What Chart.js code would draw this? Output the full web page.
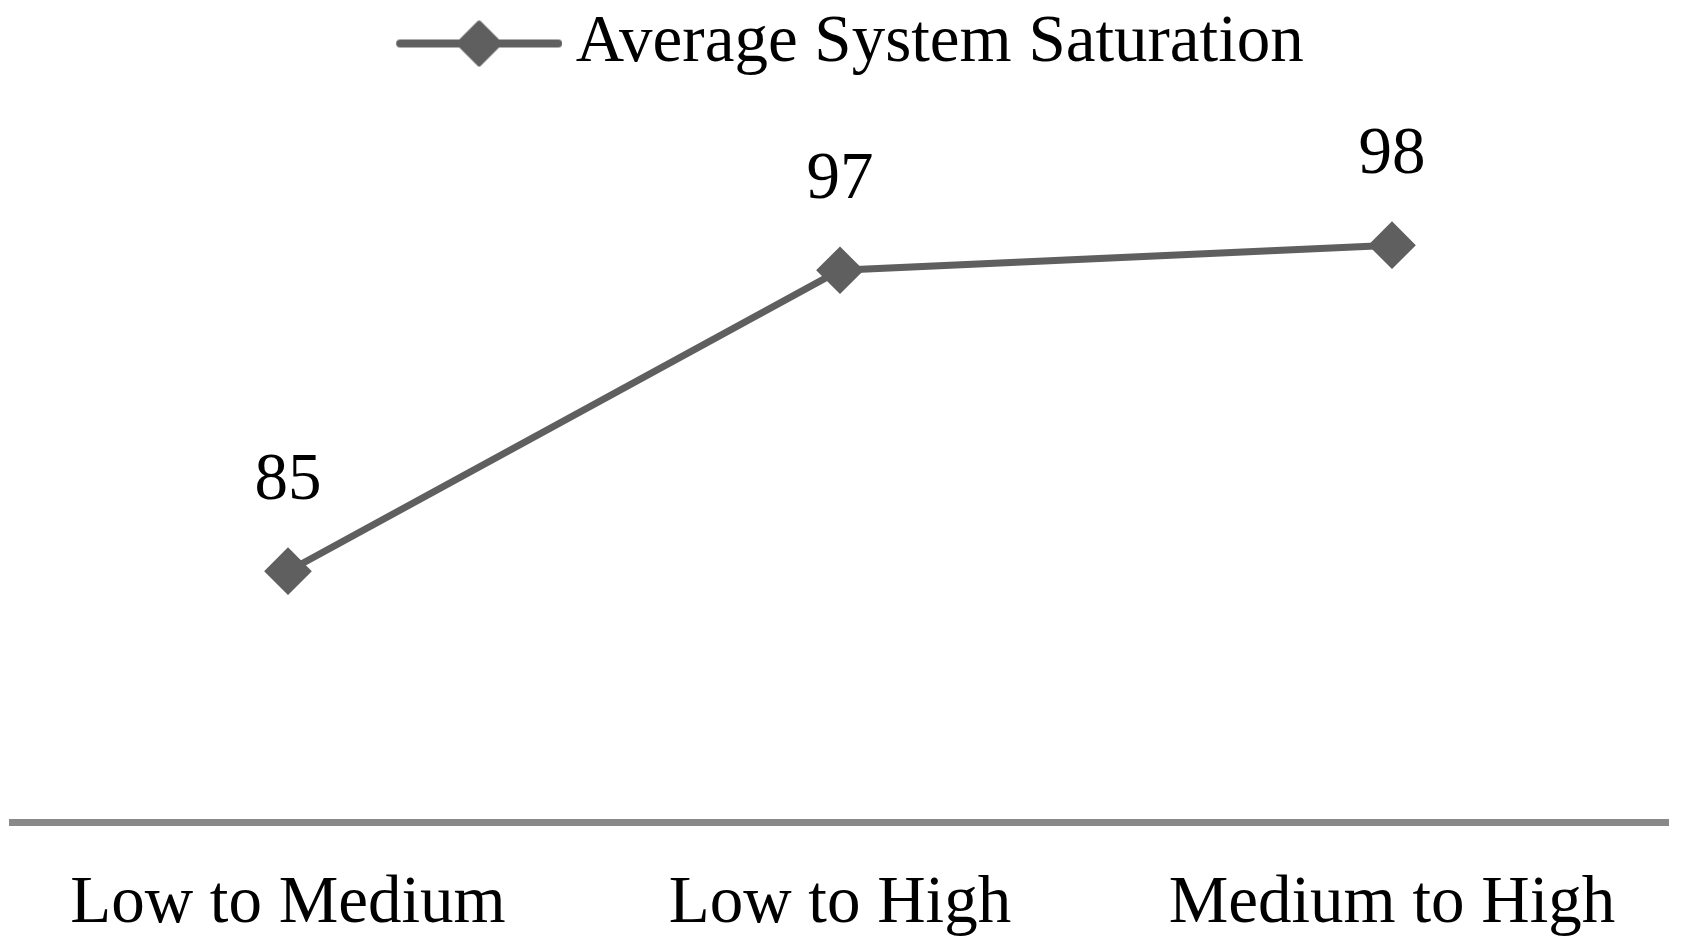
<!DOCTYPE html>
<html>
<head>
    <title>Average System Saturation</title>
    <style>
        html, body { margin: 0; padding: 0; background: #ffffff; }
        #chartContainer { width: 1681px; height: 950px; }
    </style>
    <script src="https://cdn.jsdelivr.net/npm/chart.js"></script>
</head>
<body>
    <div id="chartContainer">
        <canvas id="myChart"></canvas>
    </div>

    <script>
        // data
        const categories = ['Low to Medium', 'Low to High', 'Medium to High'];
        const saturation = [85, 97, 98];
        const seriesName = 'Average System Saturation';

        const lineColor = '#5f5f5f';
        const fontFamily = '"Liberation Serif", "Times New Roman", serif';
        const fontSize = 67;

        // legend marker: a short line with a diamond on it
        // (drawn in the right part of a wider canvas so it sits closer to the text)
        let marker = document.createElement('canvas');
        marker.width = 206;
        marker.height = 52;
        let mctx = marker.getContext('2d');
        mctx.strokeStyle = lineColor;
        mctx.fillStyle = lineColor;
        mctx.lineWidth = 8;
        mctx.lineCap = 'round';
        mctx.beginPath();
        mctx.moveTo(44, 26);
        mctx.lineTo(202, 26);
        mctx.stroke();
        mctx.lineJoin = 'round';
        mctx.lineWidth = 4;
        mctx.beginPath();
        mctx.moveTo(123 - 21, 26);
        mctx.lineTo(123, 26 - 21);
        mctx.lineTo(123 + 21, 26);
        mctx.lineTo(123, 26 + 21);
        mctx.closePath();
        mctx.fill();
        mctx.stroke();

        // make room under the legend
        const legendSpace = {
            id: 'legendSpace',
            beforeInit(chart) {
                const fit = chart.legend.fit;
                chart.legend.fit = function () {
                    fit.bind(chart.legend)();
                    this.height = 195;
                };
            }
        };

        // value labels above the points
        const valueLabels = {
            id: 'valueLabels',
            afterDatasetsDraw(chart) {
                const ctx = chart.ctx;
                const meta = chart.getDatasetMeta(0);
                ctx.save();
                ctx.font = fontSize + 'px ' + fontFamily;
                ctx.fillStyle = '#000000';
                ctx.textAlign = 'center';
                ctx.textBaseline = 'middle';
                meta.data.forEach(function (pt, i) {
                    ctx.fillText(String(saturation[i]), pt.x, pt.y - 90);
                });
                ctx.restore();
            }
        };

        let ctx = document.getElementById('myChart').getContext('2d');
        let myChart = new Chart(ctx, {
            type: 'line',
            data: {
                labels: categories,
                datasets: [{
                    label: seriesName,
                    data: saturation,
                    borderColor: lineColor,
                    backgroundColor: lineColor,
                    borderWidth: 7,
                    pointStyle: 'rectRot',
                    pointRadius: 21,
                    pointHoverRadius: 21,
                    pointBorderWidth: 4,
                    pointBackgroundColor: lineColor,
                    pointBorderColor: lineColor,
                    tension: 0
                }]
            },
            options: {
                responsive: true,
                maintainAspectRatio: false,
                animation: false,
                layout: {
                    autoPadding: false,
                    padding: { left: 12, right: 13, top: 0, bottom: 13 }
                },
                plugins: {
                    legend: {
                        display: true,
                        position: 'top',
                        labels: {
                            usePointStyle: true,
                            pointStyle: marker,
                            pointStyleWidth: 166,
                            boxHeight: 52,
                            padding: 10,
                            color: '#000000',
                            font: { family: fontFamily, size: fontSize }
                        }
                    },
                    tooltip: { enabled: false }
                },
                scales: {
                    x: {
                        offset: true,
                        grid: { display: false, drawTicks: false },
                        border: { display: true, color: '#898989', width: 7 },
                        ticks: {
                            padding: 42,
                            color: '#000000',
                            font: { family: fontFamily, size: fontSize }
                        },
                        afterFit: function (scale) {
                            scale.height = 115;
                            scale.paddingLeft = 0;
                            scale.paddingRight = 0;
                        }
                    },
                    y: {
                        display: false,
                        min: 75,
                        max: 100
                    }
                }
            },
            plugins: [legendSpace, valueLabels]
        });
    </script>
</body>
</html>
